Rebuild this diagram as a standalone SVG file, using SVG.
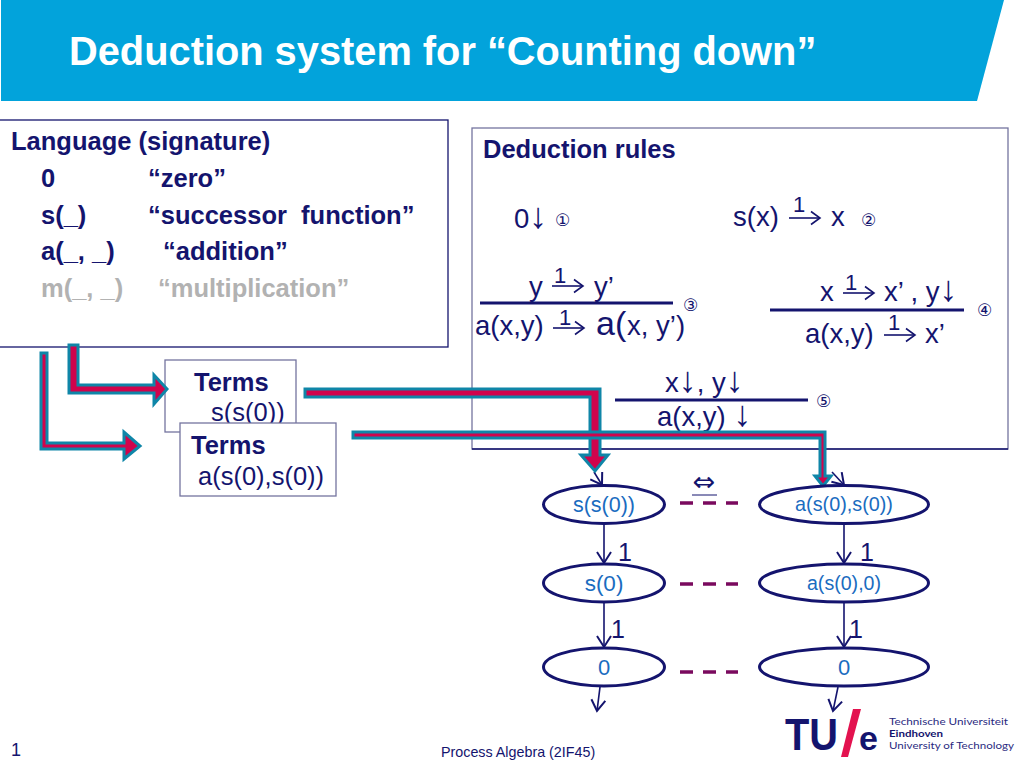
<svg xmlns="http://www.w3.org/2000/svg" width="1024" height="768" viewBox="0 0 1024 768">
<defs>
<marker id="open" markerUnits="userSpaceOnUse" markerWidth="16" markerHeight="18" refX="13" refY="9" orient="auto">
<path d="M2,2 L13,9 L2,16" fill="none" stroke="#14146e" stroke-width="2"/>
</marker>
<marker id="small" markerUnits="userSpaceOnUse" markerWidth="14" markerHeight="16" refX="12" refY="8" orient="auto">
<path d="M3,1.5 L12,8 L3,14.5" fill="none" stroke="#14146e" stroke-width="1.6"/>
</marker>
</defs>
<style>
text{font-family:"Liberation Sans",Arial,sans-serif;fill:#14146e}
.b{font-weight:bold;font-size:25.500px}
.r{font-size:27.500px}
.t{font-size:25.500px}
.c{font-family:"DejaVu Sans",sans-serif;font-size:17px}
.d{font-size:36px}
.n{fill:#1a6cc0;text-anchor:middle}
.one{font-size:25px}
.sup{font-size:22px}
.l{font-family:Lato,sans-serif;font-size:10px;fill:#2a2a80}
.box{fill:#fff;stroke:#74749f;stroke-width:1.3}
.ell{fill:#fff;stroke:#14146e;stroke-width:3}
.edge{fill:none;stroke:#14146e;stroke-width:1.6;marker-end:url(#open)}
.rule{stroke:#14146e;stroke-width:3}
.sarrow{stroke:#14146e;stroke-width:1.6;marker-end:url(#small)}
.dash{stroke:#7a0a5e;stroke-width:3.5;stroke-dasharray:13 10}
.big{fill:#d0044c;stroke:#0f86a8;stroke-width:3;stroke-linejoin:miter}
</style>
<rect width="1024" height="768" fill="#fff"/>
<g id="header">
<polygon points="1,0 1004,0 977,101 1,101" fill="#02a3db"/>
<text x="69" y="65" style="fill:#fff;font-weight:bold;font-size:39.800px">Deduction system for “Counting down”</text>
</g>
<g id="language">
<rect x="-2" y="120" width="450" height="227" fill="#fff" stroke="#14146e" stroke-width="1.3"/>
<text class="b" x="11" y="150">Language (signature)</text>
<text class="b" x="41" y="187">0</text><text class="b" x="148" y="187">“zero”</text>
<text class="b" x="41" y="224">s(_)</text><text class="b" x="148" y="224" xml:space="preserve">“successor  function”</text>
<text class="b" x="41" y="260">a(_, _)</text><text class="b" x="163" y="260">“addition”</text>
<text class="b" x="41" y="297" style="fill:#b2b2b2">m(_, _)</text><text class="b" x="158" y="297" style="fill:#b2b2b2">“multiplication”</text>
</g>
<g id="rules">
<rect x="472" y="128" width="536" height="321" fill="#fff" stroke="#74749f" stroke-width="1.3"/>
<line x1="472" y1="449" x2="1008" y2="449" stroke="#14146e" stroke-width="1.3"/>
<text class="b" x="483" y="158">Deduction rules</text>
<text class="r" x="514" y="228">0<tspan class="d">↓</tspan></text><text class="c" x="555" y="226">①</text>
<text class="r" x="733" y="226">s(x)</text><text class="sup" x="793" y="212">1</text><line class="sarrow" x1="789" y1="218" x2="820" y2="218"/><text class="r" x="831" y="226">x</text><text class="c" x="861" y="226">②</text>
<text class="r" x="529" y="296">y</text><text class="sup" x="554" y="283">1</text><line class="sarrow" x1="552" y1="286" x2="583" y2="286"/><text class="r" x="594" y="296">y’</text>
<line class="rule" x1="480" y1="303" x2="673" y2="303"/>
<text class="r" x="475" y="335">a(x,y)</text><text class="sup" x="559" y="325">1</text><line class="sarrow" x1="553" y1="328" x2="584" y2="328"/><text x="596" y="335" style="font-size:34px">a(</text><text class="r" x="627" y="335">x, y’)</text>
<text class="c" x="683" y="311">③</text>
<text class="r" x="820" y="301">x</text><text class="sup" x="845" y="290">1</text><line class="sarrow" x1="843" y1="293" x2="874" y2="293"/><text class="r" x="884" y="301" xml:space="preserve">x’ , y<tspan class="d">↓</tspan></text>
<line class="rule" x1="770" y1="310" x2="964" y2="310"/>
<text class="r" x="805" y="343">a(x,y)</text><text class="sup" x="888" y="330">1</text><line class="sarrow" x1="884" y1="335" x2="915" y2="335"/><text class="r" x="925" y="343">x’</text>
<text class="c" x="977" y="316">④</text>
<text class="r" x="665" y="392">x<tspan class="d">↓</tspan>, y<tspan class="d">↓</tspan></text>
<line class="rule" x1="615" y1="400" x2="808" y2="400"/>
<text class="r" x="657" y="426">a(x,y) <tspan class="d">↓</tspan></text>
<text class="c" x="816" y="407">⑤</text>
</g>
<g id="terms1">
<rect class="box" x="165" y="360" width="131" height="72"/>
<text class="b" x="194" y="391">Terms</text>
<text class="t" x="211" y="421">s(s(0))</text>
</g>
<g id="terms2">
<rect class="box" x="180" y="423" width="156" height="73"/>
<text class="b" x="191" y="454">Terms</text>
<text class="t" x="198" y="485">a(s(0),s(0))</text>
</g>
<g id="connectors">
<path class="edge" d="M594,472 L602,485"/>
<path class="edge" d="M832,472 L844,485"/>
<path class="edge" d="M604,524 L604,563"/>
<path class="edge" d="M844,524 L844,563"/>
<path class="edge" d="M604,602 L604,647"/>
<path class="edge" d="M844,602 L844,647"/>
<path class="edge" d="M600,687 L597,711"/>
<path class="edge" d="M838,687 L833,711"/>
<line class="dash" x1="680" y1="503" x2="738" y2="503"/>
<line class="dash" x1="680" y1="584" x2="738" y2="584"/>
<line class="dash" x1="680" y1="672" x2="738" y2="672"/>
<line x1="692" y1="495" x2="717" y2="495" stroke="#14146e" stroke-width="1"/>
<polygon class="big" points="69,345 78,345 78,385 154,385 154,375 167,389 154,404 154,393 69,393"/>
<polygon class="big" points="41,353 47,353 47,443 124,443 124,432 140,446 124,459 124,449 41,449"/>
<polygon class="big" points="305,389 600,389 600,455 608,455 595,471 581,455 590,455 590,397 305,397"/>
<polygon class="big" points="353,432 825,432 825,476 831,476 823,486 815,476 820,476 820,438 353,438"/>
</g>
<text x="704" y="491" text-anchor="middle" style="font-family:'DejaVu Sans',sans-serif;font-size:27px">⇔</text>
<g id="n1"><ellipse class="ell" cx="604" cy="504.500" rx="60.500" ry="19"/><text class="n" x="604" y="512" style="font-size:21.500px">s(s(0))</text></g>
<g id="n2"><ellipse class="ell" cx="844" cy="504.500" rx="84.500" ry="19"/><text class="n" x="844" y="511" style="font-size:19.800px">a(s(0),s(0))</text></g>
<g id="n3"><ellipse class="ell" cx="604" cy="583" rx="60.500" ry="19"/><text class="n" x="604" y="591" style="font-size:22.500px">s(0)</text></g>
<g id="n4"><ellipse class="ell" cx="844" cy="583" rx="84.500" ry="19"/><text class="n" x="844" y="590" style="font-size:19.600px">a(s(0),0)</text></g>
<g id="n5"><ellipse class="ell" cx="604" cy="667" rx="60.500" ry="19"/><text class="n" x="604" y="675" style="font-size:22px">0</text></g>
<g id="n6"><ellipse class="ell" cx="844" cy="667" rx="84.500" ry="19"/><text class="n" x="844" y="675" style="font-size:22px">0</text></g>
<g id="labels">
<text class="one" x="618" y="561">1</text><text class="one" x="860" y="561">1</text>
<text class="one" x="611" y="638">1</text><text class="one" x="849" y="638">1</text>
</g>
<g id="logo">
<text x="785" y="750" textLength="53" lengthAdjust="spacingAndGlyphs" style="font-weight:bold;font-size:45px;fill:#14146e">TU</text>
<polygon points="853,709 861,709 848,757 841,757" fill="#e3124f"/>
<text x="859" y="750" style="font-weight:bold;font-size:34px;fill:#14146e">e</text>
<text class="l" x="889" y="725" textLength="119" lengthAdjust="spacingAndGlyphs">Technische Universiteit</text>
<text class="l" x="889" y="737" textLength="54" lengthAdjust="spacingAndGlyphs" style="font-weight:bold;fill:#14146e">Eindhoven</text>
<text class="l" x="889" y="749" textLength="125" lengthAdjust="spacingAndGlyphs">University of Technology</text>
</g>
<g id="footer">
<text x="11" y="756" style="font-size:18px">1</text>
<text x="441" y="757" style="font-size:14.300px">Process Algebra (2IF45)</text>
</g>
</svg>
